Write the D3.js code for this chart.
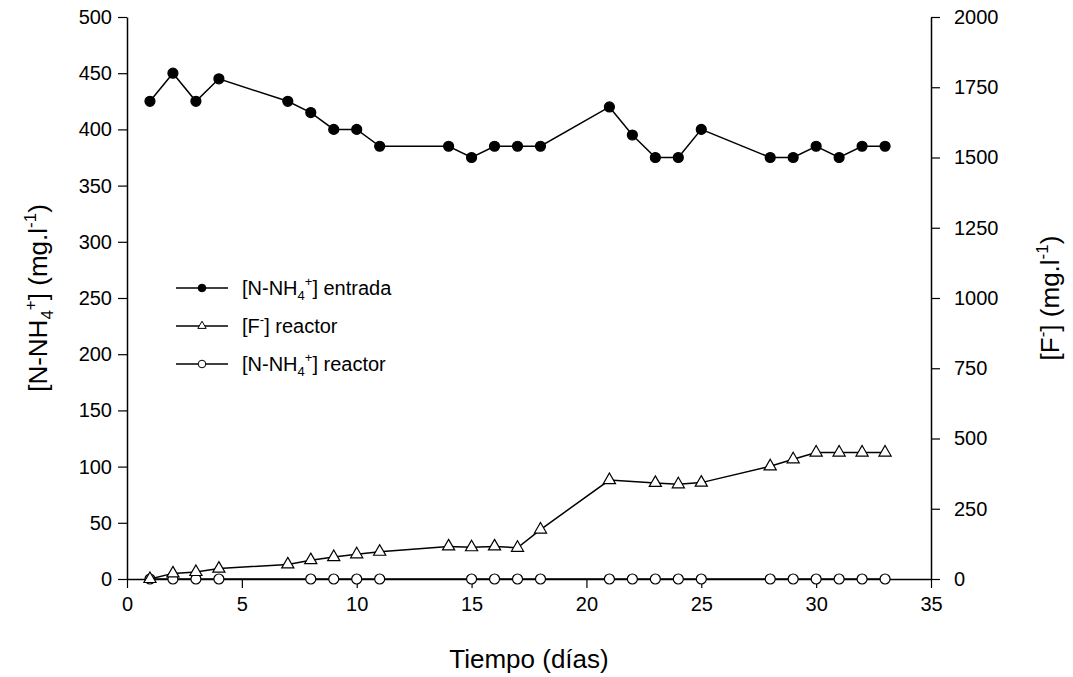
<!DOCTYPE html>
<html>
<head>
<meta charset="utf-8">
<script src="https://cdn.jsdelivr.net/npm/d3@7"></script>
<style>
  body { margin: 0; background: #fff; }
  text { font-family: "Liberation Sans", Arial, sans-serif; fill: #000; }
</style>
</head>
<body>
<script>
const width = 1073;
const height = 677;

// ammonium at the inlet (left axis)
const diasEntrada = [1, 2, 3, 4, 7, 8, 9, 10, 11, 14, 15, 16, 17, 18, 21, 22, 23, 24, 25, 28, 29, 30, 31, 32, 33];
const nh4Entrada = [425, 450, 425, 445, 425, 415, 400, 400, 385, 385, 375, 385, 385, 385, 420, 395, 375, 375, 400, 375, 375, 385, 375, 385, 385];

// fluoride in the reactor (right axis)
const diasFluor = [1, 2, 3, 4, 7, 8, 9, 10, 11, 14, 15, 16, 17, 18, 21, 23, 24, 25, 28, 29, 30, 31, 32, 33];
const fluorReactor = [0, 20, 25, 37, 52, 67, 78, 88, 97, 116, 113, 116, 111, 176, 352, 342, 337, 343, 401, 426, 450, 450, 450, 450];

// ammonium in the reactor (left axis)
const diasReactor = [1, 2, 3, 4, 8, 9, 10, 11, 15, 16, 17, 18, 21, 22, 23, 24, 25, 28, 29, 30, 31, 32, 33];
const nh4Reactor = [0, 0, 0, 0, 0, 0, 0, 0, 0, 0, 0, 0, 0, 0, 0, 0, 0, 0, 0, 0, 0, 0, 0];

const xTicks = [0, 5, 10, 15, 20, 25, 30, 35];
const yLeftTicks = [0, 50, 100, 150, 200, 250, 300, 350, 400, 450, 500];
const yRightTicks = [0, 250, 500, 750, 1000, 1250, 1500, 1750, 2000];

const margin = { top: 17, right: 142, bottom: 98, left: 127 };

const svg = d3.select("body").append("svg")
    .attr("width", width)
    .attr("height", height);

const x = d3.scaleLinear().domain([0, 35]).range([margin.left, width - margin.right]);
const yL = d3.scaleLinear().domain([0, 500]).range([height - margin.bottom, margin.top]);
const yR = d3.scaleLinear().domain([0, 2000]).range([height - margin.bottom, margin.top]);

function styleAxis(g) {
    g.selectAll("path").attr("stroke", "#000").attr("stroke-width", 1.5);
    g.selectAll("line").attr("stroke", "#000").attr("stroke-width", 1.2);
    g.selectAll("text").attr("font-size", 20).attr("font-family", "Liberation Sans, Arial, sans-serif");
}

svg.append("g")
    .attr("transform", `translate(0,${yL(0)})`)
    .call(d3.axisBottom(x).tickValues(xTicks).tickSize(9).tickSizeOuter(0).tickPadding(9))
    .call(styleAxis);

svg.append("g")
    .attr("transform", `translate(${x(0)},0)`)
    .call(d3.axisLeft(yL).tickValues(yLeftTicks).tickSize(9).tickSizeOuter(0).tickPadding(6))
    .call(styleAxis);

svg.append("g")
    .attr("transform", `translate(${x(35)},0)`)
    .call(d3.axisRight(yR).tickValues(yRightTicks).tickFormat(d3.format("d"))
        .tickSize(9).tickSizeOuter(0).tickPadding(14))
    .call(styleAxis);

// axis titles
svg.append("text")
    .attr("x", (x(0) + x(35)) / 2)
    .attr("y", 668)
    .attr("text-anchor", "middle")
    .attr("font-size", 26)
    .text("Tiempo (días)");

const tl = svg.append("text")
    .attr("transform", `translate(47,${(yL(0) + yL(500)) / 2}) rotate(-90)`)
    .attr("text-anchor", "middle")
    .attr("font-size", 26);
tl.append("tspan").text("[N-NH");
tl.append("tspan").attr("font-size", 17).attr("dy", 6).text("4");
tl.append("tspan").attr("font-size", 17).attr("dy", -17).text("+");
tl.append("tspan").attr("dy", 11).text("] (mg.l");
tl.append("tspan").attr("font-size", 17).attr("dy", -11).text("-1");
tl.append("tspan").attr("dy", 11).text(")");

const tr = svg.append("text")
    .attr("transform", `translate(1059,${(yL(0) + yL(500)) / 2}) rotate(-90)`)
    .attr("text-anchor", "middle")
    .attr("font-size", 26);
tr.append("tspan").text("[F");
tr.append("tspan").attr("font-size", 17).attr("dy", -11).text("-");
tr.append("tspan").attr("dy", 11).text("] (mg.l");
tr.append("tspan").attr("font-size", 17).attr("dy", -11).text("-1");
tr.append("tspan").attr("dy", 11).text(")");

const line = d3.line();
const triangle = d3.symbol().type(d3.symbolTriangle).size(64);

function drawSeries(days, values, yScale, marker) {
    const pts = days.map((d, i) => [x(d), yScale(values[i])]);
    svg.append("path")
        .attr("d", line(pts))
        .attr("fill", "none")
        .attr("stroke", "#000")
        .attr("stroke-width", 1.5);
    const g = svg.append("g");
    pts.forEach(p => {
        if (marker === "tri") {
            g.append("path")
                .attr("d", triangle())
                .attr("transform", `translate(${p[0]},${p[1]})`)
                .attr("fill", "#fff")
                .attr("stroke", "#000")
                .attr("stroke-width", 1.2);
        } else {
            g.append("circle")
                .attr("cx", p[0])
                .attr("cy", p[1])
                .attr("r", 5)
                .attr("fill", marker === "filled" ? "#000" : "#fff")
                .attr("stroke", "#000")
                .attr("stroke-width", 1.2);
        }
    });
}

drawSeries(diasReactor, nh4Reactor, yL, "open");
drawSeries(diasFluor, fluorReactor, yR, "tri");
drawSeries(diasEntrada, nh4Entrada, yL, "filled");

// legend
const legendRows = [
    { y: 288, marker: "filled", parts: [["[N-NH"], ["4", "sub"], ["+", "sup"], ["] entrada"]] },
    { y: 326, marker: "tri", parts: [["[F"], ["-", "sup"], ["] reactor"]] },
    { y: 364, marker: "open", parts: [["[N-NH"], ["4", "sub"], ["+", "sup"], ["] reactor"]] }
];

legendRows.forEach(row => {
    svg.append("line")
        .attr("x1", 176).attr("x2", 228)
        .attr("y1", row.y).attr("y2", row.y)
        .attr("stroke", "#000").attr("stroke-width", 1.5);
    if (row.marker === "tri") {
        svg.append("path")
            .attr("d", d3.symbol().type(d3.symbolTriangle).size(30)())
            .attr("transform", `translate(202,${row.y})`)
            .attr("fill", "#fff").attr("stroke", "#000").attr("stroke-width", 1);
    } else {
        svg.append("circle")
            .attr("cx", 202).attr("cy", row.y).attr("r", 3.8)
            .attr("fill", row.marker === "filled" ? "#000" : "#fff")
            .attr("stroke", "#000").attr("stroke-width", 1);
    }
    const t = svg.append("text")
        .attr("x", 242).attr("y", row.y + 7)
        .attr("font-size", 20);
    let shift = 0;
    row.parts.forEach(([s, kind]) => {
        const ts = t.append("tspan").text(s);
        let target = 0;
        if (kind === "sub") { ts.attr("font-size", 13); target = 5; }
        if (kind === "sup") { ts.attr("font-size", 13); target = -9; }
        ts.attr("dy", target - shift);
        shift = target;
    });
});
</script>
</body>
</html>
